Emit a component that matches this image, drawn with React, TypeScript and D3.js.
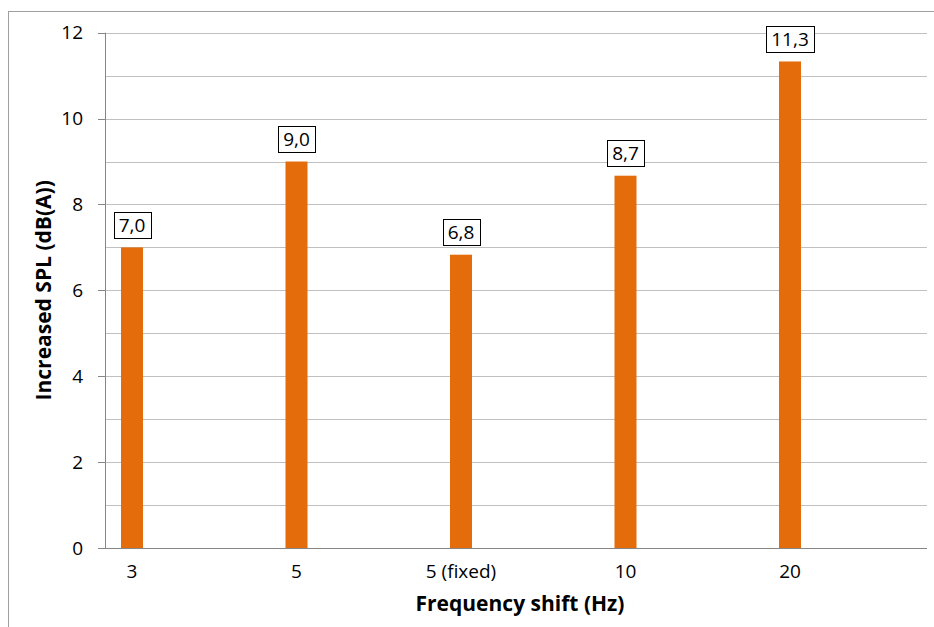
import React, { useEffect, useRef } from "react";
import * as d3 from "d3";

const categories = ["3", "5", "5 (fixed)", "10", "20"];
const values = [7.0, 9.0, 6.83, 8.67, 11.33];
const yTicks = [0, 2, 4, 6, 8, 10, 12];
const yGrid = [1, 2, 3, 4, 5, 6, 7, 8, 9, 10, 11, 12];
const xTitle = "Frequency shift (Hz)";
const yTitle = "Increased SPL (dB(A))";

const W = 934;
const H = 627;
const FONT = "'Open Sans', Lato, sans-serif";

export default function App() {
  const ref = useRef<SVGSVGElement>(null);

  useEffect(() => {
    const svg = d3.select(ref.current);
    svg.selectAll("*").remove();

    const left = 105, right = 927, top = 32.7, bottom = 548;
    const y = d3.scaleLinear().domain([0, 12]).range([bottom, top]);
    const x = d3.scalePoint<string>().domain(categories).range([132, 790]);
    const barW = 22;

    // outer border
    svg.append("rect")
      .attr("x", 8.5).attr("y", 11.5)
      .attr("width", 960).attr("height", 660)
      .attr("fill", "white").attr("stroke", "#9f9f9f").attr("stroke-width", 1);

    // gridlines
    svg.append("g").selectAll("line").data(yGrid).join("line")
      .attr("x1", left).attr("x2", right)
      .attr("y1", d => Math.round(y(d)) + 0.5).attr("y2", d => Math.round(y(d)) + 0.5)
      .attr("stroke", "#c0c0c0").attr("stroke-width", 1);

    // bars
    svg.append("g").selectAll("rect").data(values).join("rect")
      .attr("x", (d, i) => (x(categories[i]) as number) - barW / 2)
      .attr("width", barW)
      .attr("y", d => y(d))
      .attr("height", d => bottom - y(d))
      .attr("fill", "#e46c0a");

    // y axis line and ticks
    svg.append("line")
      .attr("x1", left + 0.5).attr("x2", left + 0.5)
      .attr("y1", top).attr("y2", bottom)
      .attr("stroke", "#868686");
    svg.append("g").selectAll("line").data(yTicks).join("line")
      .attr("x1", left - 7).attr("x2", left)
      .attr("y1", d => Math.round(y(d)) + 0.5).attr("y2", d => Math.round(y(d)) + 0.5)
      .attr("stroke", "#868686");
    // x axis line
    svg.append("line")
      .attr("x1", left - 7).attr("x2", right)
      .attr("y1", Math.round(bottom) + 0.5).attr("y2", Math.round(bottom) + 0.5)
      .attr("stroke", "#868686");

    // y tick labels
    svg.append("g").selectAll("text").data(yTicks).join("text")
      .attr("x", 83).attr("y", d => y(d))
      .attr("dy", "0.35em")
      .attr("text-anchor", "end")
      .attr("font-family", FONT).attr("font-size", 19).attr("fill", "#000")
      .text(d => String(d));

    // x tick labels
    svg.append("g").selectAll("text").data(categories).join("text")
      .attr("x", d => x(d) as number).attr("y", 578)
      .attr("text-anchor", "middle")
      .attr("font-family", FONT).attr("font-size", 19).attr("fill", "#000")
      .text(d => d);

    // data labels
    const fmt = (v: number) => d3.format(".1f")(v).replace(".", ",");
    const lbl = svg.append("g").selectAll("g").data(values).join("g");
    lbl.each(function (d, i) {
      const g = d3.select(this);
      const cx = x(categories[i]) as number;
      const boxBottom = y(d) - 9.5;
      const t = g.append("text")
        .attr("x", cx).attr("y", boxBottom - 6)
        .attr("text-anchor", "middle")
        .attr("font-family", FONT).attr("font-size", 19).attr("fill", "#000")
        .text(fmt(d));
      const tw = (t.node() as SVGTextElement).getComputedTextLength();
      const bw = tw + 10;
      g.insert("rect", "text")
        .attr("x", Math.round(cx - bw / 2) + 0.5).attr("y", Math.round(boxBottom - 26) + 0.5)
        .attr("width", Math.round(bw)).attr("height", 26)
        .attr("fill", "white").attr("stroke", "#000").attr("stroke-width", 1);
    });

    // axis titles
    svg.append("text")
      .attr("x", (left + right) / 2 + 4).attr("y", 611)
      .attr("text-anchor", "middle")
      .attr("font-family", FONT).attr("font-size", 21).attr("font-weight", "bold")
      .text(xTitle);
    svg.append("text")
      .attr("transform", `translate(51, ${(top + bottom) / 2}) rotate(-90)`)
      .attr("text-anchor", "middle")
      .attr("font-family", FONT).attr("font-size", 21).attr("font-weight", "bold")
      .text(yTitle);
  }, []);

  return (
    <svg
      ref={ref}
      width={W}
      height={H}
      style={{ position: "fixed", left: 0, top: 0, background: "white" }}
    />
  );
}
